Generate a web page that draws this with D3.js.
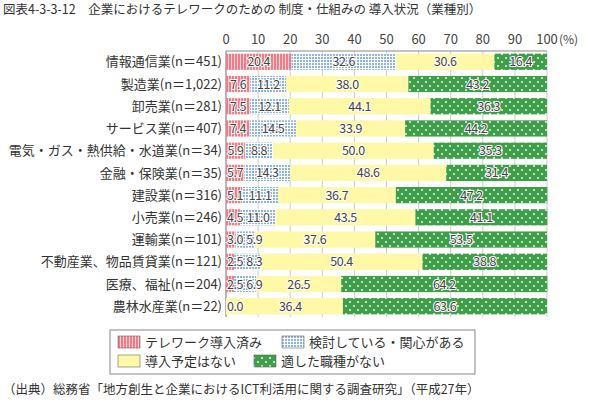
<!DOCTYPE html>
<html><head><meta charset="utf-8">
<script src="https://cdn.jsdelivr.net/npm/d3@7"></script>
<style>body{margin:0;background:#fff}text{font-family:"Noto Sans CJK JP",sans-serif}</style>
</head><body><div id="chart"></div>
<script>
const categories = ["情報通信業(n＝451)","製造業(n＝1,022)","卸売業(n＝281)","サービス業(n＝407)","電気・ガス・熱供給・水道業(n＝34)","金融・保険業(n＝35)","建設業(n＝316)","小売業(n＝246)","運輸業(n＝101)","不動産業、物品賃貸業(n＝121)","医療、福祉(n＝204)","農林水産業(n＝22)"];
const seriesNames = ["テレワーク導入済み","検討している・関心がある","導入予定はない","適した職種がない"];
const adopted   = [20.4,7.6,7.5,7.4,5.9,5.7,5.1,4.5,3.0,2.5,2.5,0.0];
const considering=[32.6,11.2,12.1,14.5,8.8,14.3,11.1,11.0,5.9,8.3,6.9,0.0];
const noPlan    = [30.6,38.0,44.1,33.9,50.0,48.6,36.7,43.5,37.6,50.4,26.5,36.4];
const notSuited = [16.4,43.2,36.3,44.2,35.3,31.4,47.2,41.1,53.5,38.8,64.2,63.6];
const ticks = [0,10,20,30,40,50,60,70,80,90,100];
const series = [adopted,considering,noPlan,notSuited];

const W=600,H=411;
const svg=d3.select("#chart").append("svg").attr("width",W).attr("height",H);
const defs=svg.append("defs");
let p=defs.append("pattern").attr("id","p0").attr("patternUnits","userSpaceOnUse").attr("width",3).attr("height",3);
p.append("rect").attr("width",3).attr("height",3).attr("fill","#ee7d88");
p.append("rect").attr("width",1).attr("height",3).attr("fill","#fbd3d6");
p=defs.append("pattern").attr("id","p1").attr("patternUnits","userSpaceOnUse").attr("width",3).attr("height",3);
p.append("rect").attr("width",3).attr("height",3).attr("fill","#fff");
p.append("rect").attr("width",2).attr("height",2).attr("fill","#8db4e2");
p=defs.append("pattern").attr("id","p2").attr("patternUnits","userSpaceOnUse").attr("width",4).attr("height",4);
p.append("rect").attr("width",4).attr("height",4).attr("fill","#fff8a6");
p=defs.append("pattern").attr("id","p3").attr("patternUnits","userSpaceOnUse").attr("width",8).attr("height",8);
p.append("rect").attr("width",8).attr("height",8).attr("fill","#3e9e4a");
p.append("circle").attr("cx",2).attr("cy",2).attr("r",0.9).attr("fill","#fff");
p.append("circle").attr("cx",6).attr("cy",6).attr("r",0.9).attr("fill","#fff");
const fills=["url(#p0)","url(#p1)","url(#p2)","url(#p3)"];

svg.append("text").attr("x",3).attr("y",14).attr("font-size",12.5).attr("fill","#333")
  .text("図表4-3-3-12　企業におけるテレワークのための 制度・仕組みの 導入状況（業種別）");

const x=d3.scaleLinear().domain([0,100]).range([226,547]);
const y=d3.scaleBand().domain(categories).range([51,317]).paddingInner(0.27).paddingOuter(0.12);

svg.append("g").selectAll("line").data(ticks).join("line")
  .attr("x1",d=>x(d)).attr("x2",d=>x(d)).attr("y1",51).attr("y2",317).attr("stroke","#ccc");
svg.append("line").attr("x1",x(0)).attr("x2",x(100)).attr("y1",51).attr("y2",51).attr("stroke","#888");
svg.append("line").attr("x1",x(0)).attr("x2",x(0)).attr("y1",51).attr("y2",317).attr("stroke","#888");
svg.append("g").selectAll("text").data(ticks).join("text")
  .attr("x",d=>x(d)).attr("y",44).attr("text-anchor","middle").attr("font-size",13).attr("fill","#444").text(d=>d);
svg.append("text").attr("x",x(100)+12).attr("y",44).attr("font-size",12).attr("fill","#444").text("(%)");

svg.append("g").selectAll("text").data(categories).join("text")
  .attr("x",222).attr("y",d=>y(d)+y.bandwidth()/2).attr("dy","0.36em").attr("text-anchor","end")
  .attr("font-size",13).attr("fill","#333").text(d=>d);

categories.forEach((c,i)=>{
  let acc=0;
  series.forEach((s,k)=>{
    const v=s[i];
    if(v>0) svg.append("rect").attr("x",x(acc)).attr("y",y(c)).attr("width",x(acc+v)-x(acc)).attr("height",y.bandwidth()).attr("fill",fills[k]);
    acc+=v;
  });
});
// value labels, laid out left to right so small ones don't collide
categories.forEach((c,i)=>{
  let acc=0, prevEnd=x(0)+1; const yy=y(c)+y.bandwidth()/2;
  series.forEach((s,k)=>{
    const v=s[i];
    const start=x(acc); acc+=v;
    if(i===categories.length-1&&k===1) return;
    const t=svg.append("text").attr("y",yy).attr("dy","0.36em")
      .attr("font-size",12.5).attr("fill","#444").attr("stroke","#fff").attr("stroke-width",2)
      .attr("paint-order","stroke").attr("letter-spacing",-0.4).text(v.toFixed(1));
    const lw=t.node().getComputedTextLength();
    let left=Math.max((start+x(acc))/2-lw/2, prevEnd);
    if(i===categories.length-1&&k===2) left=x(0)+(x(36.4)-x(0))/2-lw/2+6;
    t.attr("x",left);
    prevEnd=left+lw+3;
  });
});

// legend
const lg=svg.append("g");
lg.append("rect").attr("x",110).attr("y",330).attr("width",365).attr("height",44).attr("fill","#fff").attr("stroke","#888");
const lpos=[[118,342],[282,342],[118,361],[254,361]];
seriesNames.forEach((n,k)=>{
  lg.append("rect").attr("x",lpos[k][0]).attr("y",lpos[k][1]-6).attr("width",22).attr("height",12).attr("fill",fills[k]).attr("stroke","#666").attr("stroke-width",0.6);
  lg.append("text").attr("x",lpos[k][0]+27).attr("y",lpos[k][1]).attr("dy","0.36em").attr("font-size",13).attr("fill","#333").text(n);
});
svg.append("text").attr("x",3).attr("y",394).attr("font-size",12.5).attr("fill","#333")
  .text("（出典）総務省「地方創生と企業におけるICT利活用に関する調査研究」（平成27年）");
</script></body></html>
